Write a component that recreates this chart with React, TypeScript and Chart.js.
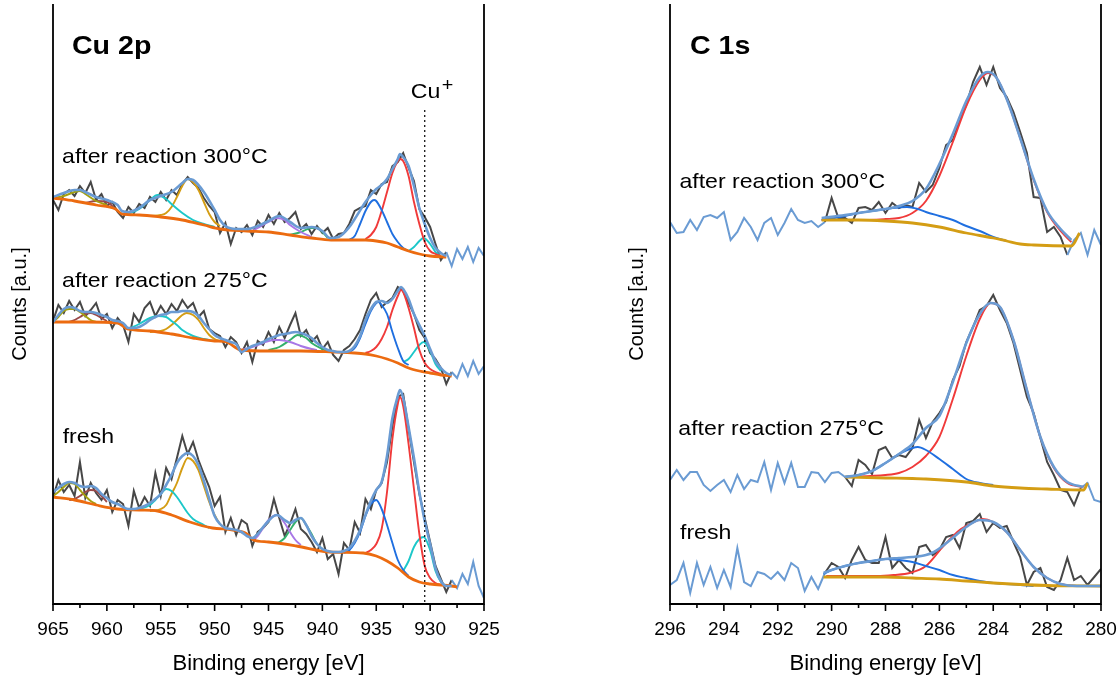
import React, { useEffect, useRef } from 'react';
import { Chart, registerables } from 'chart.js';

Chart.register(...registerables);
Chart.defaults.font.family = '"Liberation Sans", Arial, Helvetica, sans-serif';
Chart.defaults.color = '#000';

type P = [number, number];

// ---------------- Cu 2p ----------------
const cuEnergy = [965, 964.5, 964, 963.5, 963, 962.5, 962, 961.5, 961, 960.5, 960, 959.5, 959, 958.5, 958, 957.5, 957, 956.5, 956, 955.5, 955, 954.5, 954, 953.5, 953, 952.5, 952, 951.5, 951, 950.5, 950, 949.5, 949, 948.5, 948, 947.5, 947, 946.5, 946, 945.5, 945, 944.5, 944, 943.5, 943, 942.5, 942, 941.5, 941, 940.5, 940, 939.5, 939, 938.5, 938, 937.5, 937, 936.5, 936, 935.5, 935, 934.5, 934, 933.5, 933, 932.5, 932, 931.5, 931, 930.5, 930, 929.5, 929, 928.5, 928, 927.5, 927, 926.5, 926, 925.5, 925];

const cu300Raw = [404, 394, 410, 414, 408, 418, 411, 422, 404, 410, 398, 402, 392, 386, 397, 391, 400, 396, 407, 402, 412, 404, 414, 409, 420, 427, 421, 416, 406, 398, 392, 371, 381, 360, 376, 372, 379, 369, 383, 377, 389, 380, 391, 382, 386, 392, 375, 380, 370, 378, 371, 376, 365, 370, 371, 380, 393, 396, 398, 414, 410, 420, 422, 438, 442, 451, 436, 423, 395, 387, 377, 360, 344, 352, 338, 355, 345, 357, 342, 356, 348];
const cu275Raw = [283, 299, 291, 303, 294, 302, 288, 294, 301, 285, 290, 276, 286, 279, 262, 290, 282, 296, 302, 288, 298, 290, 300, 293, 304, 296, 301, 287, 293, 275, 271, 268, 257, 267, 262, 251, 262, 242, 263, 259, 272, 262, 277, 266, 279, 291, 268, 274, 262, 268, 255, 262, 249, 243, 254, 258, 265, 274, 290, 304, 311, 297, 302, 306, 317, 313, 301, 290, 274, 266, 251, 245, 236, 220, 232, 226, 240, 228, 243, 230, 238];
const cuFreshRaw = [107, 124, 112, 119, 108, 142, 106, 121, 111, 104, 114, 92, 104, 100, 78, 113, 96, 107, 98, 131, 108, 136, 125, 146, 168, 150, 162, 144, 130, 117, 98, 107, 72, 86, 69, 84, 80, 58, 72, 76, 82, 105, 86, 68, 80, 95, 75, 70, 62, 52, 66, 45, 50, 30, 61, 54, 82, 71, 105, 95, 114, 121, 142, 178, 207, 210, 175, 142, 110, 86, 62, 38, 25, 12, 24, 16, 30, 20, 42, 18, 6];

const cuFitRange300: P = [928.5, 965];
const cuFitRange275: P = [928, 965];
const cuFitRangeFresh: P = [928, 965];

const cu300Env: P[] = [[965, 407], [964, 411], [963, 414], [962.5, 414], [962, 412], [961, 407], [960, 404], [959, 399], [958.6, 393], [958, 392], [957, 396], [956, 404], [955, 408], [954, 412], [953, 421], [952.5, 425], [952, 424], [951, 412], [950, 394], [949.5, 384], [949, 378], [948, 375], [947, 375], [946, 378], [945, 383], [944, 388], [943, 382], [942, 376], [941, 377], [940, 373], [939.3, 366], [938.5, 367], [937.5, 377], [937, 385], [936, 402], [935.5, 409], [935, 415], [934.5, 419], [934, 425], [933.5, 435], [933, 445], [932.8, 450], [932.5, 447], [932, 438], [931.5, 418], [931, 396], [930.5, 380], [930, 366], [929.5, 356], [929, 351], [928.5, 348]];
const cu300Bg: P[] = [[965, 406], [963, 403], [961, 399], [959.2, 395], [958.6, 390], [957, 389], [955, 387], [953, 384], [951, 379], [949.5, 375], [947, 373], [945, 372], [943, 369], [941, 366], [939.2, 364], [938, 364], [936, 364], [935, 363], [934, 361], [933, 357], [932, 353], [931, 350], [930, 348], [928.5, 347]];
const cu300Red: P[] = [[936, 365], [935.5, 369], [935, 377], [934.5, 393], [934, 412], [933.5, 431], [933, 443], [932.8, 445], [932.5, 443], [932, 428], [931.5, 402], [931, 380], [930.5, 362], [930, 353], [929.5, 350], [929, 348]];
const cu300Blue: P[] = [[937.5, 364], [937, 368], [936.5, 380], [936, 393], [935.5, 402], [935.2, 404], [935, 403], [934.5, 394], [934, 382], [933.5, 370], [933, 362], [932.5, 356], [932, 353]];
const cu300Cyan: P[] = [[932, 353], [931.5, 357], [931, 363], [930.6, 366], [930, 360], [929.5, 352], [929, 348]];
const cu300Purple: P[] = [[946.5, 373], [946, 376], [945, 382], [944.2, 386], [943.5, 384], [943, 379], [942, 372], [941, 367]];
const cu300Green: P[] = [[943, 369], [942, 372], [941, 376], [940.5, 376], [940, 372], [939.5, 366]];
const cu300CyanSat: P[] = [[958, 390], [957, 395], [956, 404], [955.3, 409], [954.5, 405], [954, 400], [953, 391], [952, 384], [951, 380], [950, 377]];
const cu300Yellow: P[] = [[956, 388], [955, 389], [954.5, 391], [954, 397], [953.5, 407], [953, 418], [952.5, 425], [952, 422], [951.5, 414], [951, 402], [950.5, 390], [950, 382], [949.5, 378]];
const cu300Olive: P[] = [[965, 406], [964, 408], [963, 412], [962.5, 413], [962, 410], [961, 403], [960, 399]];
const cu300Brown: P[] = [[962, 401], [961, 403], [960, 402], [959.2, 395]];

const cu275Env: P[] = [[965, 282], [964.5, 289], [964, 295], [963.5, 297], [963, 296], [962.5, 293], [962, 292], [961.5, 292], [961, 291], [960.5, 289], [960, 287], [959.5, 284], [959, 283], [958.5, 281], [958, 276], [957.5, 276], [957, 277], [956.5, 280], [956, 284], [955.5, 287], [955, 289], [954.5, 290], [954, 292], [953.5, 292], [953, 293], [952.5, 293], [952, 292], [951.5, 288], [951, 281], [950.5, 275], [950, 269], [949.5, 266], [949, 264], [948.5, 262], [948, 260], [947.5, 252], [947, 255], [946.5, 258], [946, 260], [945.5, 262], [945, 265], [944.5, 267], [944, 269], [943.5, 270], [943, 271], [942.5, 272], [942, 271], [941.5, 269], [941, 266], [940.5, 261], [940, 257], [939.5, 254], [939, 253], [938.5, 252], [938, 252], [937.5, 253], [937, 258], [936.5, 268], [936, 284], [935.5, 295], [935, 302], [934.5, 303], [934, 301], [933.5, 305], [933, 313], [932.7, 317], [932.5, 315], [932, 305], [931.5, 290], [931, 279], [930.5, 268], [930, 255], [929.5, 243], [929, 236], [928.5, 231], [928, 229]];
const cu275Bg: P[] = [[965, 282], [962, 282], [959, 281], [958.1, 275], [956, 273], [954, 270], [952, 266], [950, 263], [948.9, 262], [947.6, 254], [945, 253], [942, 253], [939, 252], [937, 251], [936, 250], [935, 248], [934, 245], [933, 241], [932, 236], [931, 233], [930, 231], [929, 229], [928, 228]];
const cu275Red: P[] = [[936, 251], [935.5, 253], [935, 257], [934.5, 265], [934, 277], [933.5, 294], [933, 308], [932.7, 314], [932.5, 312], [932, 296], [931.5, 276], [931, 254], [930.5, 241], [930, 235], [929.5, 232], [929, 230]];
const cu275Blue: P[] = [[937.5, 252], [937, 256], [936.5, 266], [936, 280], [935.5, 293], [935, 301], [934.8, 302], [934.5, 299], [934, 290], [933.5, 272], [933, 256], [932.5, 243], [932, 239]];
const cu275Cyan: P[] = [[932.5, 242], [932, 245], [931.5, 252], [931, 259], [930.6, 262], [930, 253], [929.5, 240], [929, 233]];
const cu275Purple: P[] = [[947.5, 254], [946.5, 257], [945.5, 261], [944.5, 264], [944, 264], [943, 262], [942, 258], [941, 255], [940.5, 254]];
const cu275Green: P[] = [[945, 254], [944, 257], [943, 264], [942.3, 269], [941.5, 266], [941, 261], [940, 255], [939.3, 252]];
const cu275CyanSat: P[] = [[958, 275], [957, 280], [956, 286], [955.3, 288], [954.5, 287], [954, 283], [953.5, 279], [953, 274], [952, 268], [951, 265], [950, 263]];
const cu275Yellow: P[] = [[956, 272], [955, 273], [954.5, 275], [954, 279], [953.5, 284], [953, 289], [952.6, 291], [952, 289], [951.5, 284], [951, 276], [950.5, 269], [950, 265], [949.5, 263]];
const cu275Olive: P[] = [[965, 282], [964.5, 287], [964, 293], [963.5, 295], [963, 295], [962.5, 292], [962, 288], [961.5, 284], [961, 282]];
const cu275Brown: P[] = [[963.5, 282], [963, 284], [962.5, 287], [962, 290], [961.5, 291], [961, 289], [960.5, 286], [960, 283]];

const cuFreshEnv: P[] = [[965, 112], [964.5, 116], [964, 120], [963.5, 122], [963, 121], [962.5, 118], [962, 117], [961.5, 118], [961, 116], [960.5, 110], [960, 106], [959.5, 102], [959, 100], [958.5, 97], [958, 95], [957.5, 95], [957, 96], [956.5, 98], [956, 101], [955.5, 105], [955, 110], [954.5, 119], [954, 129], [953.5, 141], [953, 148], [952.5, 151], [952, 148], [951.5, 139], [951, 123], [950.5, 105], [950, 88], [949.5, 80], [949, 76], [948.5, 75], [948, 74], [947.5, 72], [947, 68], [946.5, 66], [946, 70], [945.5, 77], [945, 83], [944.5, 88], [944.2, 89], [943.5, 84], [943, 81], [942.5, 84], [942, 86], [941.5, 79], [941, 68], [940.5, 60], [940, 55], [939.5, 53], [939, 52], [938.5, 52], [938, 53], [937.5, 56], [937, 63], [936.5, 74], [936, 89], [935.5, 103], [935, 114], [934.5, 122], [934, 148], [933.5, 186], [933, 208], [932.8, 214], [932.5, 206], [932, 177], [931.5, 146], [931, 112], [930.5, 83], [930, 60], [929.5, 36], [929, 23], [928.5, 18], [928, 18]];
const cuFreshBg: P[] = [[965, 107], [963, 104], [961, 99], [959, 95], [957, 94], [955.3, 93], [954, 89], [952.3, 82], [950.2, 76], [948.3, 74], [947, 70], [946.4, 64], [945, 62], [942.4, 58], [939.3, 52], [936.2, 51], [935, 48], [934, 43], [933, 36], [932, 27], [931, 22], [930, 20], [928, 18], [927.5, 17]];
const cuFreshRed: P[] = [[936, 51], [935.5, 54], [935, 60], [934.5, 75], [934, 112], [933.5, 165], [933, 200], [932.8, 207], [932.5, 198], [932, 160], [931.5, 115], [931, 70], [930.5, 38], [930, 26], [929.5, 21], [929, 19]];
const cuFreshBlue: P[] = [[938, 51], [937.5, 54], [937, 61], [936.5, 72], [936, 88], [935.5, 100], [935, 104], [934.5, 95], [934, 79], [933.5, 61], [933, 44], [932.5, 34], [932, 28]];
const cuFreshCyan: P[] = [[932.5, 33], [932, 43], [931.5, 57], [931, 65], [930.6, 67], [930, 54], [929.5, 33], [929, 22], [928.5, 18]];
const cuFreshPurple: P[] = [[946.5, 64], [946, 68], [945.5, 76], [945, 84], [944.2, 89], [943.5, 81], [943, 72], [942.5, 64], [942, 59]];
const cuFreshGreen: P[] = [[944.5, 61], [944, 62], [943.5, 66], [943, 74], [942.5, 82], [942, 86], [941.5, 79], [941, 70], [940.5, 60], [940, 55]];
const cuFreshCyanSat: P[] = [[957.5, 94], [957, 95], [956, 99], [955.5, 104], [955, 110], [954.5, 115], [954, 113], [953.5, 107], [953, 99], [952.5, 91], [952, 85], [951, 79], [950.5, 76]];
const cuFreshYellow: P[] = [[956, 93], [955, 95], [954.5, 99], [954, 110], [953.5, 121], [953, 136], [952.5, 146], [952, 143], [951.5, 134], [951, 118], [950.5, 102], [950, 89], [949.5, 80], [949, 76]];
const cuFreshOlive: P[] = [[965, 108], [964.5, 112], [964, 117], [963.5, 121], [963, 120], [962.5, 114], [962, 108], [961.5, 103], [961, 100]];
const cuFreshBrown: P[] = [[963.5, 104], [963, 105], [962.5, 108], [962, 112], [961.5, 114], [961, 113], [960.5, 108], [960, 102]];

const cuTicks = { min: 925, max: 965, major: 5, minor: 2.5 };
const cuPlusLine = { x: 930.5, from: 0, to: 494 };

// ---------------- C 1s ----------------
const cEnergy = [296, 295.75, 295.5, 295.25, 295, 294.75, 294.5, 294.25, 294, 293.75, 293.5, 293.25, 293, 292.75, 292.5, 292.25, 292, 291.75, 291.5, 291.25, 291, 290.75, 290.5, 290.25, 290, 289.75, 289.5, 289.25, 289, 288.75, 288.5, 288.25, 288, 287.75, 287.5, 287.25, 287, 286.75, 286.5, 286.25, 286, 285.75, 285.5, 285.25, 285, 284.75, 284.5, 284.25, 284, 283.75, 283.5, 283.25, 283, 282.75, 282.5, 282.25, 282, 281.75, 281.5, 281.25, 281, 280.75, 280.5, 280.25, 280];

const c300Raw = [382, 371, 372, 384, 374, 387, 389, 386, 392, 364, 372, 386, 377, 364, 381, 386, 369, 381, 395, 384, 381, 383, 377, 382, 406, 386, 386, 381, 396, 397, 394, 402, 391, 401, 396, 399, 397, 421, 412, 419, 436, 459, 464, 484, 499, 522, 537, 519, 537, 516, 507, 492, 472, 451, 407, 406, 372, 377, 367, 349, 364, 371, 349, 374, 359];
const c275Raw = [124, 134, 124, 132, 132, 119, 113, 119, 124, 112, 129, 115, 124, 122, 142, 114, 141, 121, 141, 117, 117, 132, 131, 122, 131, 132, 127, 118, 144, 139, 130, 154, 157, 146, 149, 147, 156, 184, 166, 182, 191, 202, 224, 238, 262, 277, 294, 298, 309, 294, 281, 261, 234, 207, 191, 166, 142, 129, 114, 112, 99, 116, 121, 104, 102];
const cFreshRaw = [19, 24, 41, 11, 41, 19, 37, 16, 34, 17, 56, 22, 18, 32, 30, 25, 32, 24, 41, 36, 13, 27, 15, 31, 41, 37, 26, 44, 57, 44, 41, 41, 67, 36, 44, 36, 31, 57, 59, 49, 54, 67, 69, 56, 81, 83, 90, 72, 81, 76, 78, 62, 47, 19, 32, 36, 17, 14, 24, 46, 24, 28, 19, 27, 35];

const cFitRange300: P = [281.25, 290.25];
const cFitRange275: P = [280.75, 289.5];
const cFitRangeFresh: P = [280, 290.25];

const c300Env: P[] = [[290.37, 386], [289.5, 389], [289, 391], [288.5, 393], [288, 395], [287.5, 398], [287, 403], [286.5, 415], [286, 440], [285.5, 470], [285, 503], [284.5, 527], [284.2, 532], [283.9, 527], [283.5, 505], [283, 466], [282.5, 425], [282, 393], [281.5, 375], [281.1, 364]];
const c300Bg: P[] = [[290.37, 384], [289, 384], [288, 383], [287, 381], [286, 377], [285, 371], [284, 366], [283.5, 363], [283, 360], [282.5, 359], [281.1, 358], [280.8, 371]];
const c300Blue: P[] = [[290.37, 384], [289.5, 388], [289, 391], [288.5, 393], [288, 395], [287.5, 396.5], [287.2, 397], [286.8, 395], [286.5, 392], [286, 388], [285.5, 384], [285, 378], [284.5, 373], [284, 367], [283.5, 363]];
const c300Red: P[] = [[290.37, 384], [289, 384], [288, 385], [287.5, 386], [287, 391], [286.5, 403], [286, 428], [285.5, 462], [285, 498], [284.5, 524], [284.2, 531], [283.9, 527], [283.5, 505], [283, 466], [282.5, 424], [282, 392], [281.5, 373], [281.1, 362]];

const c275Env: P[] = [[289.5, 127], [289, 129], [288.5, 133], [288, 141], [287.5, 150], [287, 160], [286.5, 176], [286, 188], [285.5, 222], [285, 261], [284.5, 290], [284.1, 301], [283.75, 297], [283.25, 264], [282.75, 214], [282.25, 167], [281.75, 137], [281.25, 122], [280.65, 117]];
const c275Bg: P[] = [[289.5, 127], [288, 126], [287, 125.5], [286.5, 125], [285, 122], [284, 118], [283, 116], [282, 115], [280.65, 114], [280.5, 121]];
const c275Blue: P[] = [[289.5, 127], [289, 129], [288.5, 133], [288, 141], [287.5, 150], [287, 156], [286.8, 157], [286.5, 154], [286, 145], [285.5, 135], [285, 125], [284.5, 121], [284, 119]];
const c275Red: P[] = [[289.5, 127], [288, 129], [287.5, 131], [287, 137], [286.5, 148], [286, 167], [285.5, 205], [285, 248], [284.5, 285], [284.1, 301], [283.75, 297], [283.25, 264], [282.75, 214], [282.25, 167], [281.75, 136], [281.25, 121], [280.65, 117]];

const cFreshEnv: P[] = [[290.3, 31], [290, 34], [289.5, 38], [289, 41], [288.5, 43], [288, 45], [287.5, 46], [287, 47], [286.5, 49], [286.2, 52], [285.6, 64], [285, 77], [284.5, 84], [284, 82], [283.5, 72], [283, 54], [282.5, 37], [282, 26], [281.5, 20], [280.9, 18], [280, 18]];
const cFreshBg: P[] = [[290.3, 27], [289, 27], [288, 27], [287, 26], [286, 25], [285, 23], [284, 21], [283, 19.5], [282, 18.5], [280, 18]];
const cFreshBlue: P[] = [[290.3, 30], [290, 34], [289.5, 38], [289, 41], [288.5, 43], [288, 45], [287.5, 44], [287, 42], [286.5, 38], [286, 34], [285.5, 29], [285, 26], [284.5, 23], [284, 21], [283, 19], [282.5, 18]];
const cFreshRed: P[] = [[290.2, 28], [289, 28], [288.3, 28], [287.7, 29], [287.1, 31], [286.5, 38], [285.85, 58], [285.2, 75], [284.7, 82], [284.4, 85], [284, 82], [283.5, 72], [283, 54], [282.5, 37], [282, 26], [281.5, 20], [280.9, 18], [280, 18]];

const cTicks = { min: 280, max: 296, major: 2, minor: 1 };

// ---------------- styles ----------------
const RAW = '#474747';
const ENV = '#6a9bd3';
const ORANGE = '#ec6b10';
const GOLD = '#d49d14';
const RED = '#f03a3a';
const BLUE = '#1f6fe0';
const CYAN = '#1cc7c9';
const OLIVE = '#a3a010';
const BROWN = '#9a4848';
const PURPLE = '#a877e6';
const GREEN = '#34b06c';
const FONT = '"Liberation Sans", Arial, Helvetica, sans-serif';

const toPts = (p: P[]) => p.map(([x, y]) => ({ x, y }));
const zip = (xs: number[], ys: number[]) => xs.map((x, i) => ({ x, y: ys[i] }));

function spectrum(energy: number[], raw: number[], fit: P, env: P[], bg: P[], bgColor: string, comps: [P[], string][]) {
  const sets: any[] = [];
  sets.push({
    data: zip(energy, raw), borderColor: RAW, borderWidth: 2, tension: 0, order: 4,
    segment: {
      borderColor: (c: any) => {
        const a = c.p0.parsed.x, b = c.p1.parsed.x;
        return Math.min(a, b) >= fit[0] - 1e-6 && Math.max(a, b) <= fit[1] + 1e-6 ? RAW : ENV;
      },
    },
  });
  comps.forEach(([pts, col]) => sets.push({ data: toPts(pts), borderColor: col, borderWidth: 1.9, cubicInterpolationMode: 'monotone', order: 3 }));
  sets.push({ data: toPts(bg), borderColor: bgColor, borderWidth: 2.8, cubicInterpolationMode: 'monotone', order: 2 });
  sets.push({ data: toPts(env), borderColor: ENV, borderWidth: 2.6, cubicInterpolationMode: 'monotone', order: 1 });
  return sets;
}

const cuDatasets = [
  ...spectrum(cuEnergy, cu300Raw, cuFitRange300, cu300Env, cu300Bg, ORANGE, [[cu300Olive, OLIVE], [cu300Brown, BROWN], [cu300CyanSat, CYAN], [cu300Yellow, GOLD], [cu300Purple, PURPLE], [cu300Green, GREEN], [cu300Blue, BLUE], [cu300Red, RED], [cu300Cyan, CYAN]]),
  ...spectrum(cuEnergy, cu275Raw, cuFitRange275, cu275Env, cu275Bg, ORANGE, [[cu275Olive, OLIVE], [cu275Brown, BROWN], [cu275CyanSat, CYAN], [cu275Yellow, GOLD], [cu275Purple, PURPLE], [cu275Green, GREEN], [cu275Blue, BLUE], [cu275Red, RED], [cu275Cyan, CYAN]]),
  ...spectrum(cuEnergy, cuFreshRaw, cuFitRangeFresh, cuFreshEnv, cuFreshBg, ORANGE, [[cuFreshOlive, OLIVE], [cuFreshBrown, BROWN], [cuFreshCyanSat, CYAN], [cuFreshYellow, GOLD], [cuFreshPurple, PURPLE], [cuFreshGreen, GREEN], [cuFreshBlue, BLUE], [cuFreshRed, RED], [cuFreshCyan, CYAN]]),
];

const cDatasets = [
  ...spectrum(cEnergy, c300Raw, cFitRange300, c300Env, c300Bg, GOLD, [[c300Blue, BLUE], [c300Red, RED]]),
  ...spectrum(cEnergy, c275Raw, cFitRange275, c275Env, c275Bg, GOLD, [[c275Blue, BLUE], [c275Red, RED]]),
  ...spectrum(cEnergy, cFreshRaw, cFitRangeFresh, cFreshEnv, cFreshBg, GOLD, [[cFreshBlue, BLUE], [cFreshRed, RED]]),
];

type Note = { x: number; y: number; text: string; size: number; bold?: boolean };

const cuNotes: Note[] = [
  { x: 963.24, y: 550.5, text: 'Cu 2p', size: 26, bold: true },
  { x: 964.16, y: 440.7, text: 'after reaction 300°C', size: 21 },
  { x: 964.16, y: 316.7, text: 'after reaction 275°C', size: 21 },
  { x: 964.1, y: 161.3, text: 'fresh', size: 21 },
  { x: 931.8, y: 505.7, text: 'Cu', size: 21 },
  { x: 928.93, y: 513.5, text: '+', size: 18 },
];
const cNotes: Note[] = [
  { x: 295.26, y: 550.5, text: 'C 1s', size: 26, bold: true },
  { x: 295.65, y: 415.7, text: 'after reaction 300°C', size: 21 },
  { x: 295.69, y: 169, text: 'after reaction 275°C', size: 21 },
  { x: 295.63, y: 64.7, text: 'fresh', size: 21 },
];

const decorPlugin = {
  id: 'decor',
  afterDatasetsDraw(chart: any, _args: any, opts: any) {
    const { ctx, chartArea: a, scales } = chart;
    const xs = scales.x, ys = scales.y;
    ctx.save();
    ctx.strokeStyle = '#000';
    ctx.lineWidth = 1.8;
    ctx.beginPath();
    ctx.moveTo(a.left, a.top);
    ctx.lineTo(a.left, a.bottom);
    ctx.lineTo(a.right, a.bottom);
    ctx.lineTo(a.right, a.top);
    ctx.stroke();
    const t = opts.ticks;
    ctx.lineWidth = 1.6;
    ctx.beginPath();
    const n = Math.round((t.max - t.min) / t.minor);
    for (let i = 0; i <= n; i++) {
      const v = t.min + i * t.minor;
      const px = xs.getPixelForValue(v);
      const r = v / t.major;
      const major = Math.abs(r - Math.round(r)) < 1e-6;
      ctx.moveTo(px, a.bottom);
      ctx.lineTo(px, a.bottom + (major ? 7 : 4));
    }
    ctx.stroke();
    if (opts.vline) {
      const px = xs.getPixelForValue(opts.vline.x);
      ctx.lineWidth = 1.2;
      ctx.setLineDash([2, 3]);
      ctx.beginPath();
      ctx.moveTo(px, ys.getPixelForValue(opts.vline.to));
      ctx.lineTo(px, ys.getPixelForValue(opts.vline.from));
      ctx.stroke();
      ctx.setLineDash([]);
    }
    ctx.fillStyle = '#000';
    ctx.textAlign = 'left';
    ctx.textBaseline = 'alphabetic';
    (opts.notes as Note[]).forEach((nt) => {
      const px = xs.getPixelForValue(nt.x);
      const py = ys.getPixelForValue(nt.y);
      ctx.save();
      ctx.translate(px, py);
      ctx.scale(1.1, 1);
      ctx.font = `${nt.bold ? 'bold ' : ''}${nt.size}px ${FONT}`;
      ctx.fillText(nt.text, 0, 0);
      ctx.restore();
    });
    ctx.restore();
  },
};

function makeConfig(datasets: any[], ticks: any, notes: Note[], rightPad: number, vline: any) {
  return {
    type: 'line',
    data: { datasets },
    plugins: [decorPlugin],
    options: {
      responsive: false,
      animation: false,
      devicePixelRatio: 1,
      layout: { padding: { top: 4, right: rightPad, left: 0, bottom: 0 } },
      elements: { point: { radius: 0 }, line: { fill: false } },
      plugins: {
        legend: { display: false },
        tooltip: { enabled: false },
        decor: { ticks, notes, vline },
      },
      scales: {
        x: {
          type: 'linear', min: ticks.min, max: ticks.max, reverse: true,
          grid: { display: false, drawTicks: false }, border: { display: false },
          ticks: { stepSize: ticks.major, font: { size: 19 }, color: '#000', padding: 14, maxRotation: 0, autoSkip: false },
          title: { display: true, text: 'Binding energy [eV]', font: { size: 22 }, color: '#000', padding: { top: 0, bottom: 0 } },
          afterFit: (s: any) => { s.height = 73; s.paddingLeft = 0; s.paddingRight = 0; },
        },
        y: {
          type: 'linear', min: 0, max: 600,
          grid: { display: false, drawTicks: false }, border: { display: false },
          ticks: { display: false },
          title: { display: true, text: 'Counts [a.u.]', font: { size: 20 }, color: '#000', padding: { top: 8, bottom: 0 } },
          afterFit: (s: any) => { s.width = 53; },
        },
      },
    },
  };
}

export default function App() {
  const leftRef = useRef<HTMLCanvasElement>(null);
  const rightRef = useRef<HTMLCanvasElement>(null);
  useEffect(() => {
    const left = new Chart(leftRef.current as HTMLCanvasElement, makeConfig(cuDatasets, cuTicks, cuNotes, 36, cuPlusLine) as any);
    const right = new Chart(rightRef.current as HTMLCanvasElement, makeConfig(cDatasets, cTicks, cNotes, 17, null) as any);
    return () => { left.destroy(); right.destroy(); };
  }, []);
  return (
    <div style={{ position: 'fixed', left: 0, top: 0, width: 1118, height: 677, background: '#fff', overflow: 'hidden' }}>
      <canvas ref={leftRef} width={520} height={677} style={{ position: 'absolute', left: 0, top: 0 }} />
      <canvas ref={rightRef} width={501} height={677} style={{ position: 'absolute', left: 617, top: 0 }} />
    </div>
  );
}
